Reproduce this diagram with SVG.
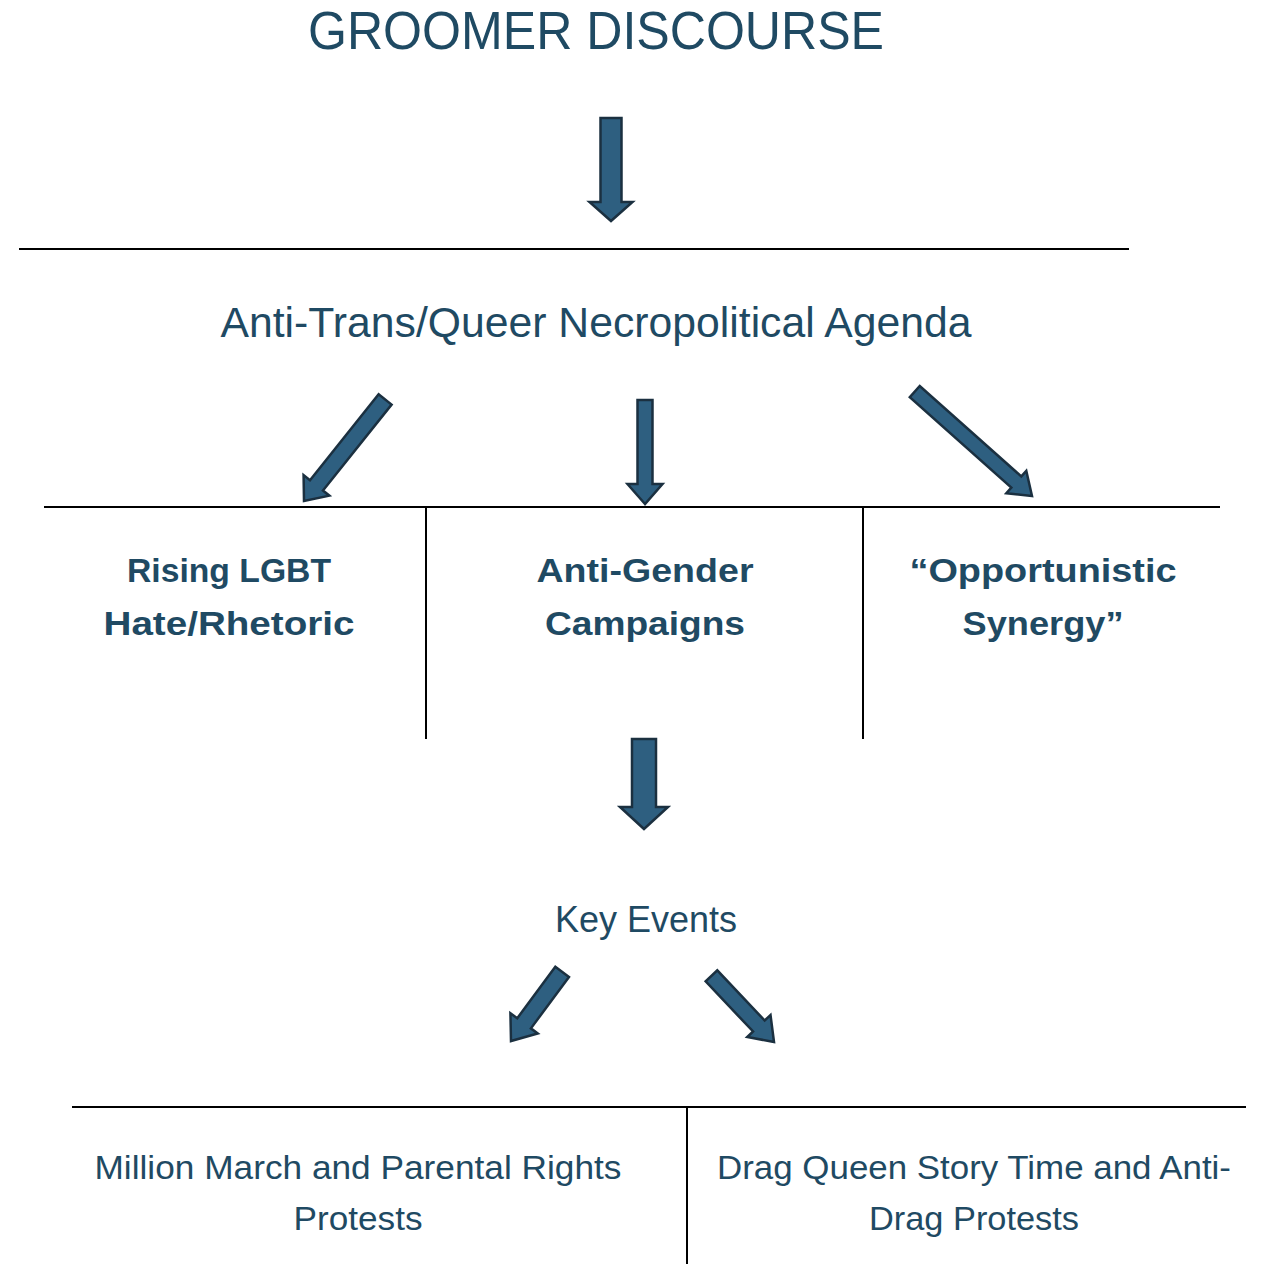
<svg xmlns="http://www.w3.org/2000/svg" width="1261" height="1264" viewBox="0 0 1261 1264">
<style>
text{font-family:"Liberation Sans",Arial,sans-serif;fill:#1f4a63;text-anchor:middle}
.t{font-size:54px}
.h{font-size:42px}
.b{font-size:34px;font-weight:bold}
.k{font-size:36px}
.s{font-size:33px}
.ln{stroke:#000;stroke-width:2;fill:none}
.ar{fill:#2e5f80;stroke:#1b3040;stroke-width:2.5;stroke-linejoin:miter}
</style>
<rect width="1261" height="1264" fill="#fff"/>
<g id="title"><text class="t" x="596" y="49" textLength="576" lengthAdjust="spacingAndGlyphs">GROOMER DISCOURSE</text></g>
<g id="agenda"><text class="h" x="596" y="337" textLength="751" lengthAdjust="spacingAndGlyphs">Anti-Trans/Queer Necropolitical Agenda</text></g>
<g id="rising"><text class="b" x="229" y="582" textLength="204" lengthAdjust="spacingAndGlyphs">Rising LGBT</text><text class="b" x="229" y="635" textLength="251" lengthAdjust="spacingAndGlyphs">Hate/Rhetoric</text></g>
<g id="antigender"><text class="b" x="645" y="582" textLength="217" lengthAdjust="spacingAndGlyphs">Anti-Gender</text><text class="b" x="645" y="635" textLength="200" lengthAdjust="spacingAndGlyphs">Campaigns</text></g>
<g id="synergy"><text class="b" x="1043" y="582" textLength="267" lengthAdjust="spacingAndGlyphs">“Opportunistic</text><text class="b" x="1043" y="635" textLength="161" lengthAdjust="spacingAndGlyphs">Synergy”</text></g>
<g id="keyevents"><text class="k" x="646" y="932">Key Events</text></g>
<g id="million"><text class="s" x="358" y="1179" textLength="527" lengthAdjust="spacingAndGlyphs">Million March and Parental Rights</text><text class="s" x="358" y="1230" textLength="129" lengthAdjust="spacingAndGlyphs">Protests</text></g>
<g id="drag"><text class="s" x="974" y="1179" textLength="514" lengthAdjust="spacingAndGlyphs">Drag Queen Story Time and Anti-</text><text class="s" x="974" y="1230" textLength="210" lengthAdjust="spacingAndGlyphs">Drag Protests</text></g>
<g id="connectors">
<line class="ln" x1="19" y1="249" x2="1129" y2="249"/>
<line class="ln" x1="44" y1="507" x2="1220" y2="507"/>
<line class="ln" x1="426" y1="507" x2="426" y2="739"/>
<line class="ln" x1="863" y1="507" x2="863" y2="739"/>
<line class="ln" x1="72" y1="1107" x2="1246" y2="1107"/>
<line class="ln" x1="687" y1="1107" x2="687" y2="1264"/>
<path class="ar" transform="translate(611,221)" d="M0,0 L-21.5,-19 L-10.5,-19 L-10.5,-103 L10.5,-103 L10.5,-19 L21.5,-19 Z"/>
<path class="ar" transform="translate(304,501) rotate(38.6)" d="M0,0 L-16.5,-20 L-8.3,-20 L-8.3,-130 L8.3,-130 L8.3,-20 L16.5,-20 Z"/>
<path class="ar" transform="translate(645,504)" d="M0,0 L-17.5,-20 L-7.5,-20 L-7.5,-104 L7.5,-104 L7.5,-20 L17.5,-20 Z"/>
<path class="ar" transform="translate(1032,496) rotate(-48.3)" d="M0,0 L-15,-21 L-7.5,-21 L-7.5,-157 L7.5,-157 L7.5,-21 L15,-21 Z"/>
<path class="ar" transform="translate(644,829)" d="M0,0 L-24,-22 L-12,-22 L-12,-90 L12,-90 L12,-22 L24,-22 Z"/>
<path class="ar" transform="translate(511,1041) rotate(36.5)" d="M0,0 L-17,-22 L-8.5,-22 L-8.5,-86 L8.5,-86 L8.5,-22 L17,-22 Z"/>
<path class="ar" transform="translate(774,1042) rotate(-43.4)" d="M0,0 L-16,-22 L-8,-22 L-8,-91 L8,-91 L8,-22 L16,-22 Z"/>
</g>
</svg>
